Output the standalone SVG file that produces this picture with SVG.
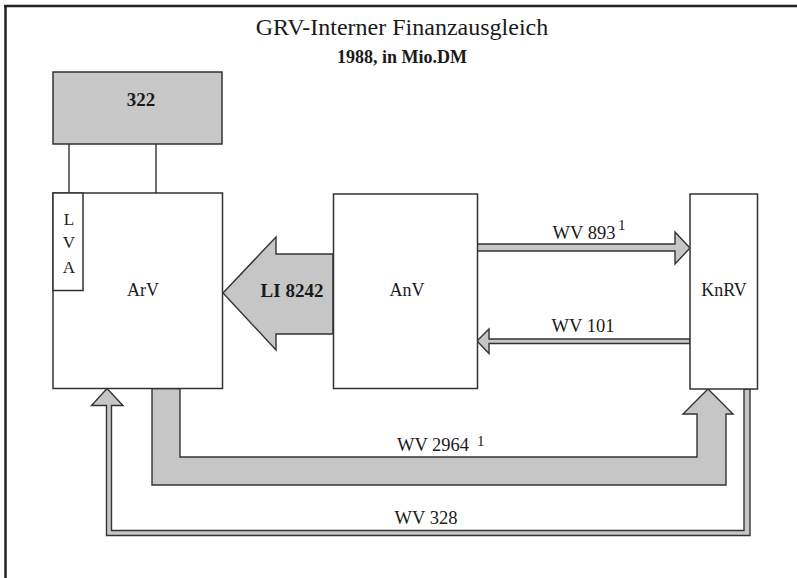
<svg xmlns="http://www.w3.org/2000/svg" width="797" height="578" viewBox="0 0 797 578">
<style>
.t{font-family:"Liberation Serif","Times New Roman",serif;fill:#1a1a1a;}
.box{fill:#fff;stroke:#333;stroke-width:1.5;}
.flow{fill:#c6c6c6;stroke:#333;stroke-width:1.4;stroke-linejoin:miter;}
.ln{stroke:#333;stroke-width:1.4;fill:none;}
</style>
<rect width="797" height="578" fill="#fff"/>
<g id="frame">
<line x1="4" y1="6" x2="797" y2="6" stroke="#222" stroke-width="2.5"/>
<line x1="5.5" y1="5" x2="5.5" y2="578" stroke="#222" stroke-width="2.5"/>
</g>
<g id="title">
<text class="t" x="402" y="35" font-size="24" text-anchor="middle">GRV-Interner Finanzausgleich</text>
<text class="t" x="402" y="63" font-size="18" font-weight="bold" text-anchor="middle">1988, in Mio.DM</text>
</g>
<g id="n322">
<rect x="53" y="72" width="169" height="72" fill="#c8c8c8" stroke="#333" stroke-width="1.5"/>
<text class="t" x="141" y="106" font-size="19" font-weight="bold" text-anchor="middle">322</text>
</g>
<g id="connectors">
<line class="ln" x1="69" y1="144" x2="69" y2="193"/>
<line class="ln" x1="156" y1="144" x2="156" y2="193"/>
<polygon class="flow" points="333,254 276,254 276,237 223,293 276,350 276,334 333,334"/>
<polygon class="flow" points="477,244 675,244 675,232 690,248 675,264 675,251 477,251"/>
<polygon class="flow" points="690,339 489,339 489,329 477,341 489,353.5 489,343.5 690,343.5"/>
<polygon class="flow" points="152,388.5 152,485 726,485 726,414 733,414 708,389 683,414 697,414 697,457 180,457 180,388.5"/>
<polygon class="flow" points="744,389 744,530.5 111.5,530.5 111.5,405.5 123,405.5 107,388.5 91.5,405.5 106.5,405.5 106.5,535.5 750,535.5 750,389"/>
<text class="t" x="292" y="297" font-size="19" font-weight="bold" text-anchor="middle">LI 8242</text>
<text class="t" x="584" y="239" font-size="18.5" text-anchor="middle">WV 893</text>
<text class="t" x="618" y="230" font-size="15">1</text>
<text class="t" x="583" y="332" font-size="18.5" text-anchor="middle">WV 101</text>
<text class="t" x="433" y="451" font-size="18.5" text-anchor="middle">WV 2964</text>
<text class="t" x="477" y="446" font-size="15">1</text>
<text class="t" x="426" y="524" font-size="18.5" text-anchor="middle">WV 328</text>
</g>
<g id="ArV">
<rect class="box" x="53" y="193" width="169.5" height="195.5"/>
<text class="t" x="143" y="296" font-size="18" text-anchor="middle">ArV</text>
</g>
<g id="LVA">
<rect class="box" x="53" y="193" width="30" height="97.5"/>
<text class="t" x="69" y="225" font-size="17" text-anchor="middle">L</text>
<text class="t" x="69" y="248" font-size="17" text-anchor="middle">V</text>
<text class="t" x="69" y="273" font-size="17" text-anchor="middle">A</text>
</g>
<g id="AnV">
<rect class="box" x="333.5" y="194" width="144" height="194.5"/>
<text class="t" x="407" y="296" font-size="18" text-anchor="middle">AnV</text>
</g>
<g id="KnRV">
<rect class="box" x="690" y="194" width="67.5" height="195"/>
<text class="t" x="724" y="296" font-size="18" text-anchor="middle">KnRV</text>
</g>
</svg>
